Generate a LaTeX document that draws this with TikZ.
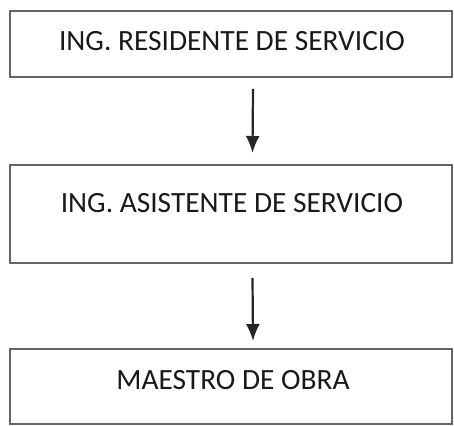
\documentclass[tikz,border=0pt]{standalone}
\usepackage{fontspec}
\setmainfont{Carlito}
\usetikzlibrary{arrows.meta}

\begin{document}
\begin{tikzpicture}[
    puesto/.style = {rectangle,
                     draw = black!60,
                     line width = 1pt,
                     minimum width = 221pt},
    texto/.style  = {text = black!90,
                     font = \fontsize{14.7}{17}\selectfont},
    flecha/.style = {line width = 1.1pt,
                     draw = black!85,
                     -{Latex[length=8.5pt,width=7pt]}}
  ]
  \useasboundingbox (0,0) rectangle (227pt,-213pt);

      \node[puesto,
            minimum height = 33pt] (RES) at (115.5pt,-22pt) {};
      \node[texto] at ([xshift=0.5pt,yshift=1.5pt]RES.center) {ING. RESIDENTE DE SERVICIO};

      \node[puesto,
            minimum height = 49pt] (ASI) at (115.25pt,-107pt) {};
      \node[texto] at ([xshift=0.75pt,yshift=5.5pt]ASI.center) {ING. ASISTENTE DE SERVICIO};

      \node[puesto,
            minimum height = 37.5pt] (MAE) at (115.5pt,-193.25pt) {};
      \node[texto] at ([xshift=1pt,yshift=3.25pt]MAE.center) {MAESTRO DE OBRA};

      \draw[flecha] ([xshift=11pt,yshift=-5.5pt]RES.south) -- ([xshift=11pt,yshift=5.5pt]ASI.north);
      \draw[flecha] ([xshift=11pt,yshift=-7pt]ASI.south) -- ([xshift=11pt,yshift=3.5pt]MAE.north);

\end{tikzpicture}
\end{document}
